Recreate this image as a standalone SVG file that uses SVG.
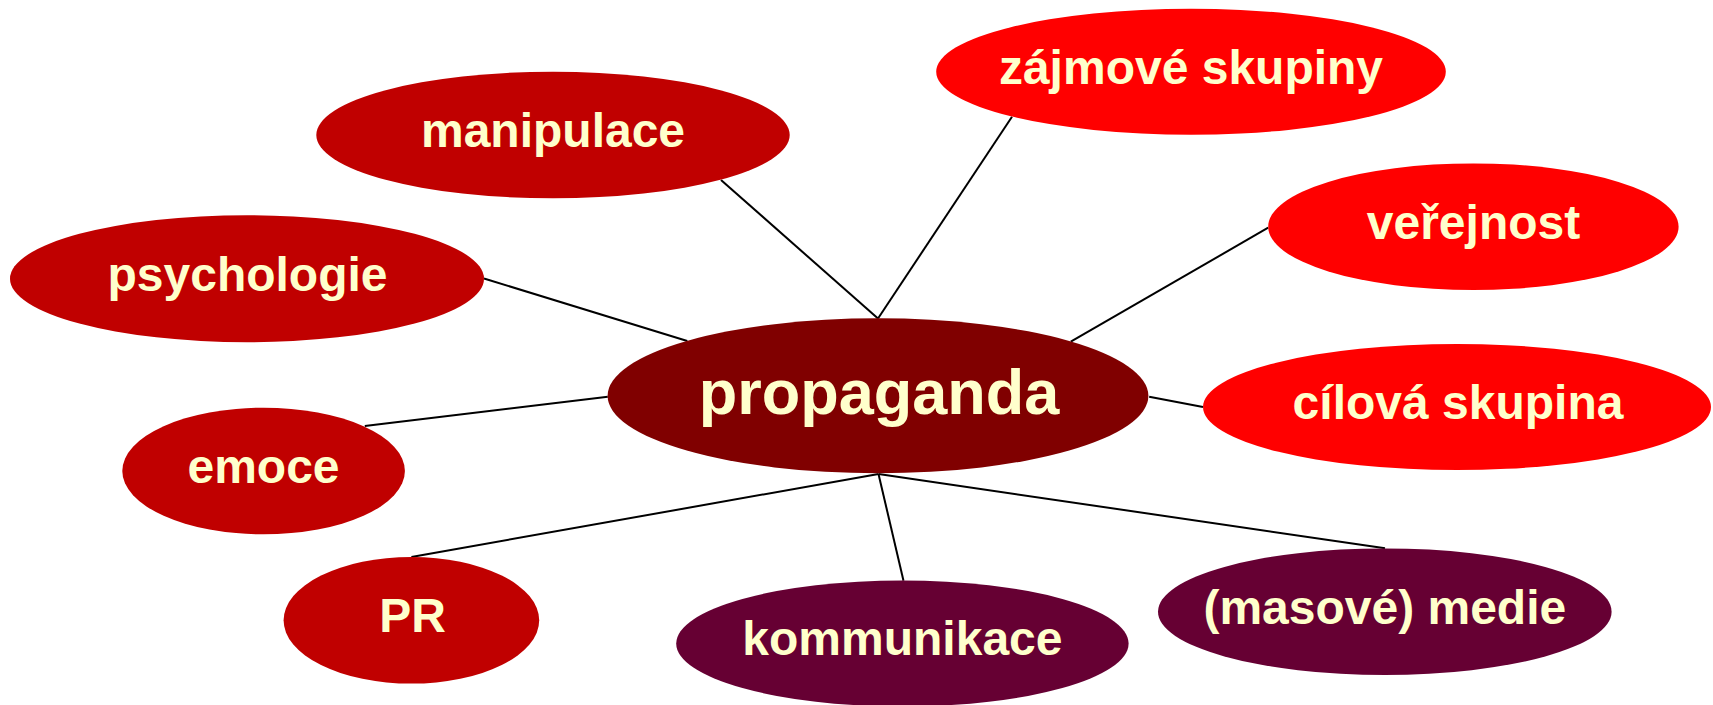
<svg xmlns="http://www.w3.org/2000/svg" width="1713" height="705" viewBox="0 0 1713 705">
<style>
.t{font-family:"Liberation Sans",Arial,sans-serif;font-weight:bold;font-size:48px;fill:#FFFFCC;text-anchor:middle}
.big{font-size:63px}
.r{fill:#FF0000}
.d{fill:#C00000}
.c{fill:#800000}
.p{fill:#660033}
#connectors line{stroke:#000;stroke-width:2}
</style>
<rect width="1713" height="705" fill="#fff"/>
<g id="connectors">
<line x1="721" y1="180" x2="878" y2="318.5"/>
<line x1="1012" y1="116.7" x2="878" y2="318.5"/>
<line x1="484" y1="278.5" x2="687.3" y2="341"/>
<line x1="1268.2" y1="227.7" x2="1070.8" y2="341.7"/>
<line x1="364.8" y1="426" x2="607.8" y2="396.7"/>
<line x1="1149.2" y1="396.7" x2="1203" y2="407"/>
<line x1="878.5" y1="474" x2="411.4" y2="557"/>
<line x1="878.5" y1="474" x2="903.5" y2="580.7"/>
<line x1="878.5" y1="474" x2="1385" y2="548.3"/>
</g>
<g id="zajmove"><ellipse class="r" cx="1191" cy="71.7" rx="254.8" ry="63"/><text class="t" x="1191" y="83.5">zájmové skupiny</text></g>
<g id="manipulace"><ellipse class="d" cx="553" cy="135" rx="236.7" ry="63.3"/><text class="t" x="553" y="147">manipulace</text></g>
<g id="verejnost"><ellipse class="r" cx="1473.4" cy="226.7" rx="205.2" ry="63.3"/><text class="t" x="1473.5" y="238.5">veřejnost</text></g>
<g id="psychologie"><ellipse class="d" cx="247" cy="278.7" rx="237" ry="63.5"/><text class="t" x="247.5" y="290.7">psychologie</text></g>
<g id="propaganda"><ellipse class="c" cx="878" cy="395.8" rx="270.4" ry="77.5"/><text class="t big" x="879" y="413.5">propaganda</text></g>
<g id="cilova"><ellipse class="r" cx="1457" cy="407" rx="254" ry="63"/><text class="t" x="1458" y="418.5">cílová skupina</text></g>
<g id="emoce"><ellipse class="d" cx="263.6" cy="471" rx="141.3" ry="63.3"/><text class="t" x="263.5" y="482.7">emoce</text></g>
<g id="pr"><ellipse class="d" cx="411.4" cy="620.3" rx="127.8" ry="63.3"/><text class="t" x="412.5" y="631.7">PR</text></g>
<g id="kommunikace"><ellipse class="p" cx="902.4" cy="643.5" rx="226.2" ry="63"/><text class="t" x="902.4" y="655">kommunikace</text></g>
<g id="medie"><ellipse class="p" cx="1384.8" cy="611.7" rx="226.8" ry="63.3"/><text class="t" x="1384.8" y="623.5">(masové) medie</text></g>
</svg>
